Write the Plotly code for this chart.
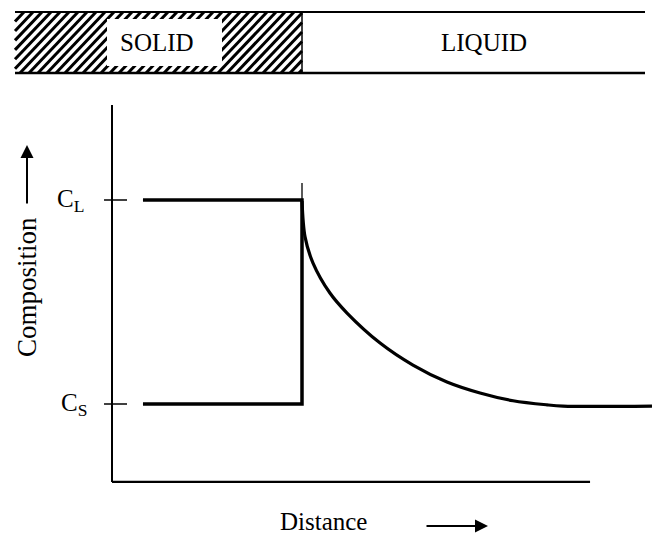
import plotly.graph_objects as go

# ---- data (distance in units of interface position, composition normalised CS=0, CL=1)
level_names = ["C<sub>L</sub>", "C<sub>S</sub>"]
level_values = [1.0, 0.0]          # CL, CS
interface_x = 1.0
solid_start_x = 0.163
curve_distance = [1.0, 1.016, 1.058, 1.147, 1.237, 1.411, 1.584, 1.763, 1.937, 2.111, 2.289, 2.374, 2.842]
curve_composition = [0.995, 0.819, 0.691, 0.544, 0.446, 0.299, 0.191, 0.108, 0.054, 0.016, -0.004, -0.010, -0.010]
axis_x_end = 2.516
axis_y_top = 1.466
axis_y_bottom = -0.382
band_labels = ["SOLID", "LIQUID"]

W, H = 657, 536
FONT = "'Liberation Serif', 'Times New Roman', serif"

def px(x):
    return x / W

def py(y):
    return 1 - y / H

fig = go.Figure()

# solid-phase profile
fig.add_trace(go.Scatter(
    x=[solid_start_x, interface_x, interface_x, solid_start_x],
    y=[level_values[0], level_values[0], level_values[1], level_values[1]],
    mode="lines", line=dict(color="black", width=3.5), hoverinfo="skip"))
# liquid-phase profile
fig.add_trace(go.Scatter(
    x=curve_distance, y=curve_composition, mode="lines",
    line=dict(color="black", width=3.2, shape="spline", smoothing=0.9), hoverinfo="skip"))

shapes = []
# axes
shapes.append(dict(type="line", xref="x", yref="y", x0=0, x1=0, y0=axis_y_bottom, y1=axis_y_top,
                   line=dict(color="black", width=2)))
shapes.append(dict(type="line", xref="x", yref="y", x0=0, x1=axis_x_end, y0=axis_y_bottom, y1=axis_y_bottom,
                   line=dict(color="black", width=2.2)))
# ticks at CL / CS
for v in level_values:
    shapes.append(dict(type="line", xref="x", yref="y", x0=-0.042, x1=0.079, y0=v, y1=v,
                       line=dict(color="black", width=1.5)))
# thin interface marker above CL
shapes.append(dict(type="line", xref="x", yref="y", x0=interface_x, x1=interface_x,
                   y0=level_values[0], y1=1.083, line=dict(color="black", width=1.3)))

# ---- top band
bx0, bx1, by0, by1 = 15, 302, 12, 73
d = 58
step = 9.0
xb = bx0 - d
while xb < bx1:
    t0 = max(0.0, (bx0 - xb) / d)
    t1 = min(1.0, (bx1 - xb) / d)
    if t0 < t1:
        xa, ya = xb + d * t0, by1 - (by1 - by0) * t0
        xc, yc = xb + d * t1, by1 - (by1 - by0) * t1
        shapes.append(dict(type="line", xref="paper", yref="paper",
                           x0=px(xa), y0=py(ya), x1=px(xc), y1=py(yc),
                           line=dict(color="black", width=3.0)))
    xb += step
# white box for SOLID label
shapes.append(dict(type="rect", xref="paper", yref="paper", x0=px(107), x1=px(222), y0=py(66), y1=py(19),
                   fillcolor="white", line=dict(width=0)))
# band borders
shapes.append(dict(type="line", xref="paper", yref="paper", x0=px(15), x1=px(645), y0=py(12), y1=py(12),
                   line=dict(color="black", width=2)))
shapes.append(dict(type="line", xref="paper", yref="paper", x0=px(15), x1=px(645), y0=py(73), y1=py(73),
                   line=dict(color="black", width=2.4)))
shapes.append(dict(type="line", xref="paper", yref="paper", x0=px(302), x1=px(302), y0=py(73), y1=py(12),
                   line=dict(color="black", width=1.5)))

annotations = []
annotations.append(dict(text=band_labels[0], xref="paper", yref="paper", x=px(157), y=py(42),
                        xanchor="center", yanchor="middle",
                        showarrow=False, font=dict(family=FONT, size=25, color="black")))
annotations.append(dict(text=band_labels[1], xref="paper", yref="paper", x=px(484), y=py(43),
                        xanchor="center", yanchor="middle",
                        showarrow=False, font=dict(family=FONT, size=25, color="black")))
# level labels
for name, v, cx in zip(level_names, level_values, [-0.217, -0.2]):
    annotations.append(dict(text=name, xref="x", yref="y", x=cx, y=v, showarrow=False,
                            xanchor="center", yanchor="middle",
                            font=dict(family=FONT, size=25, color="black")))
# axis titles
annotations.append(dict(text="Composition", xref="paper", yref="paper", x=px(27), y=py(287),
                        xanchor="center", yanchor="middle",
                        textangle=-90, showarrow=False, font=dict(family=FONT, size=27, color="black")))
annotations.append(dict(text="Distance", xref="paper", yref="paper", x=px(323), y=py(521),
                        xanchor="center", yanchor="middle",
                        showarrow=False, font=dict(family=FONT, size=25, color="black")))
# arrows
annotations.append(dict(text="", xref="paper", yref="paper", x=px(27), y=py(145), ax=0, ay=60,
                        showarrow=True, arrowhead=2, arrowsize=1.3, arrowwidth=2, arrowcolor="black"))
annotations.append(dict(text="", xref="paper", yref="paper", x=px(488), y=py(526), ax=-63, ay=0,
                        showarrow=True, arrowhead=2, arrowsize=1.3, arrowwidth=2, arrowcolor="black"))

fig.update_layout(
    width=W, height=H,
    margin=dict(l=0, r=0, t=0, b=0),
    paper_bgcolor="white", plot_bgcolor="white",
    showlegend=False,
    xaxis=dict(range=[-112 / 190, (W - 112) / 190], visible=False, fixedrange=True),
    yaxis=dict(range=[(404 - H) / 204, 404 / 204], visible=False, fixedrange=True),
    shapes=shapes, annotations=annotations,
)

fig.write_html("out.html", config={"displayModeBar": False},
               post_script="document.body.style.margin='0';")
